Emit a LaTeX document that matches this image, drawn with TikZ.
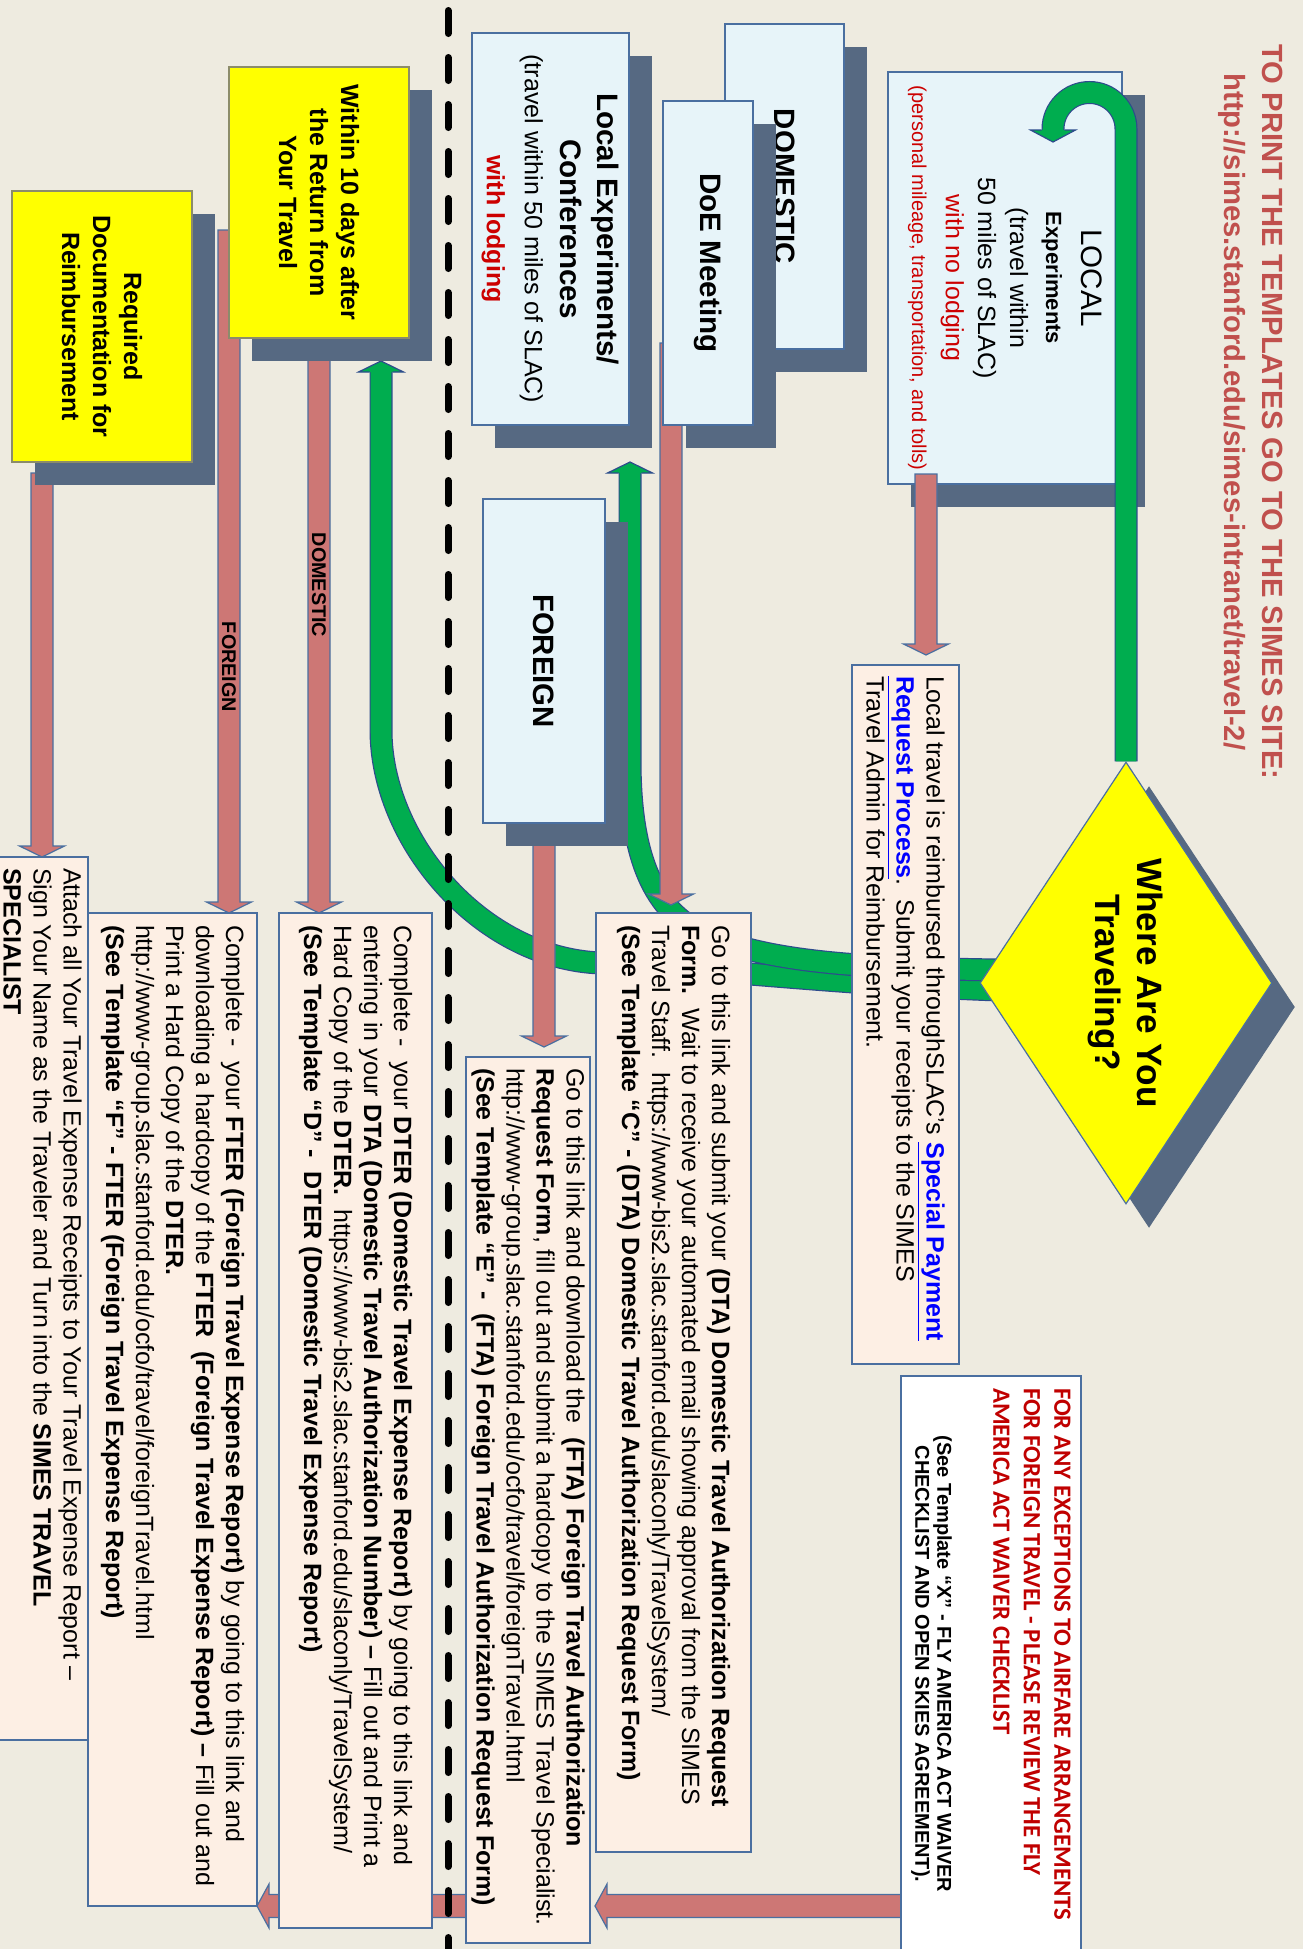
\documentclass[tikz,border=0pt]{standalone}
\usepackage{fontspec}
\setmainfont{Liberation Sans}
\newfontfamily\calibfont{Carlito}
\usepackage{graphicx}
\usetikzlibrary{shapes.geometric,shadows,calc}

\definecolor{bgc}{HTML}{EEEBE0}
\definecolor{titlered}{HTML}{C0504D}
\definecolor{boxblue}{HTML}{E7F4F9}
\definecolor{edgeblue}{HTML}{4A6FA0}
\definecolor{shadowc}{HTML}{566982}
\definecolor{peachc}{HTML}{FDEFE4}
\definecolor{yellowc}{HTML}{FFFF00}
\definecolor{yellowedge}{HTML}{8C8C6A}
\definecolor{pinkc}{HTML}{CD7775}
\definecolor{greenc}{HTML}{00AD4F}
\definecolor{greenedge}{HTML}{2D4C8C}
\definecolor{redtxt}{HTML}{CC0000}
\definecolor{linkblue}{HTML}{0000FF}
\definecolor{alertred}{HTML}{C00000}

\pgfdeclarelayer{bgl}
\pgfdeclarelayer{greenl}
\pgfdeclarelayer{pinkl}
\pgfdeclarelayer{upper}
\pgfdeclarelayer{top}
\pgfsetlayers{bgl,greenl,pinkl,main,upper,top}

% text set sideways, reading top to bottom
\newcommand\vrot[1]{\rotatebox{-90}{#1}}
\newcommand\bodytext[2]{\rotatebox{-90}{\parbox{#1}{\fontsize{12.5}{15}\selectfont\raggedright #2}}}
\newcommand\linktext[1]{\textcolor{linkblue}{\bfseries\underline{#1}}}

% thick pink block arrows (down / left)
\newcommand\pinkdown[2]{\draw[pinkarrow] let \p1=#1, \p2=#2 in
  (\x1-5.5pt,\y1) -- (\x1-5.5pt,\y2+5.5pt) -- (\x1-11.25pt,\y2+5.5pt) -- (\x1,\y2)
  -- (\x1+11.25pt,\y2+5.5pt) -- (\x1+5.5pt,\y2+5.5pt) -- (\x1+5.5pt,\y1) -- cycle;}
\newcommand\pinkleft[2]{\draw[pinkarrow] let \p1=#1, \p2=#2 in
  (\x1,\y1+5.75pt) -- (\x2+6pt,\y1+5.75pt) -- (\x2+6pt,\y1+11pt) -- (\x2,\y1)
  -- (\x2+6pt,\y1-11pt) -- (\x2+6pt,\y1-5.75pt) -- (\x1,\y1-5.75pt) -- cycle;}
% heads of the green band arrows
\newcommand\greenup[1]{%
  \fill[greenc] let \p1=#1 in (\x1-11.25pt,\y1) -- (\x1,\y1+5.5pt) -- (\x1+11.25pt,\y1) -- cycle;
  \draw[greenedge,line width=0.6pt] let \p1=#1 in (\x1-5.75pt,\y1) -- (\x1-11.25pt,\y1)
    -- (\x1,\y1+5.5pt) -- (\x1+11.25pt,\y1) -- (\x1+5.75pt,\y1);}
\newcommand\greendown[1]{%
  \fill[greenc] let \p1=#1 in (\x1-11.25pt,\y1) -- (\x1,\y1-6pt) -- (\x1+11.25pt,\y1) -- cycle;
  \draw[greenedge,line width=0.6pt] let \p1=#1 in (\x1-5.75pt,\y1) -- (\x1-11.25pt,\y1)
    -- (\x1,\y1-6pt) -- (\x1+11.25pt,\y1) -- (\x1+5.75pt,\y1);}

\tikzset{
  slate/.style={drop shadow={shadow xshift=11.5pt, shadow yshift=-11.5pt, fill=shadowc, opacity=1}},
  boxedge/.style={draw=edgeblue, line width=0.6pt, inner sep=0pt, outer sep=0pt},
  bluebox/.style={boxedge, fill=boxblue, slate},
  yellowbox/.style={draw=yellowedge, line width=0.6pt, inner sep=0pt, outer sep=0pt, fill=yellowc, slate},
  peachbox/.style={boxedge, fill=peachc},
  notebox/.style={boxedge, fill=white},
  decision/.style={diamond, aspect=0.66, draw=edgeblue, line width=0.6pt, fill=yellowc, inner sep=0pt,
    drop shadow={shadow xshift=11.5pt, shadow yshift=-12pt, fill=shadowc, opacity=1}},
  pinkarrow/.style={fill=pinkc, draw=edgeblue, line width=0.6pt, line join=miter},
  greenband/.style={draw=greenedge, line width=0.6pt, double=greenc, double distance=10.3pt},
  divider/.style={line width=3.5pt, line cap=round, dash pattern=on 11.5pt off 12pt},
  arrowlabel/.style={inner sep=0pt, font=\fontsize{9.9}{11}\selectfont\bfseries},
}

\begin{document}
\begin{tikzpicture}[x=0.5pt,y=-0.5pt]
\useasboundingbox (0,0) rectangle (1303,1949);
\begin{pgfonlayer}{bgl}
  \fill[bgc] (0,0) rectangle (1303,1949);
\end{pgfonlayer}

% ---------- heading ----------
\node[inner sep=0pt] (title) at (1250.5,412) {\vrot{\parbox{380pt}{\centering
  \fontsize{14.6}{19}\selectfont\bfseries\leavevmode\color{titlered}%
  TO PRINT THE TEMPLATES GO TO THE SIMES SITE:\\
  http://simes.stanford.edu/simes-intranet/travel-2/}}};

% ---------- category boxes ----------
\node[bluebox, minimum width=117pt, minimum height=206pt] (local) at (1005,278)
 {\vrot{\parbox{200pt}{\centering
  {\fontsize{14.8}{18}\selectfont LOCAL\par}
  {\fontsize{11}{17.75}\selectfont\bfseries Experiments\par}
  {\fontsize{12.5}{18}\selectfont (travel within\par}
  {\fontsize{12.5}{16}\selectfont 50 miles of SLAC)\par}
  {\fontsize{12.5}{16}\selectfont\textcolor{redtxt}{with no lodging}\par}
  {\fontsize{10}{17}\selectfont\textcolor{redtxt}{(personal mileage, transportation, and tolls)}\par}}}};

\node[bluebox, minimum width=59.5pt, minimum height=162.5pt] (domestic) at (784.5,186.5)
 {\vrot{\fontsize{14.7}{17}\selectfont\bfseries DOMESTIC}};
\node[bluebox, minimum width=45pt, minimum height=162pt] (doe) at (708,263)
 {\vrot{\fontsize{14.8}{17}\selectfont\bfseries DoE Meeting}};
\node[bluebox, minimum width=78.5pt, minimum height=196pt] (lexp) at (550.5,229)
 {\vrot{\parbox{190pt}{\centering
  {\fontsize{14.8}{18.5}\selectfont\bfseries Local Experiments/\\ Conferences\par}
  {\fontsize{12.5}{18}\selectfont (travel within 50 miles of SLAC)\par}
  {\fontsize{12.5}{19}\selectfont\bfseries\textcolor{redtxt}{with lodging}\par}}}};
\node[bluebox, minimum width=61pt, minimum height=162pt] (foreign) at (544,661)
 {\vrot{\fontsize{14.7}{17}\selectfont\bfseries FOREIGN}};

\node[yellowbox, minimum width=90pt, minimum height=135.5pt] (within) at (319,202.5)
 {\vrot{\parbox{130pt}{\centering\fontsize{12.5}{15.5}\selectfont\bfseries
  Within 10 days after\\ the Return from\\ Your Travel}}};
\node[yellowbox, minimum width=90pt, minimum height=135.5pt] (required) at (102,326.5)
 {\vrot{\parbox{130pt}{\centering\fontsize{12.5}{15.5}\selectfont\bfseries
  Required\\ Documentation for\\ Reimbursement}}};

% ---------- instruction boxes ----------
\node[peachbox, minimum width=53.5pt, minimum height=349.5pt] (ltravel) at (905.5,1014.5)
 {\bodytext{338.5pt}{%
  \mbox{Local travel is reimbursed throughSLAC’s \linktext{Special Payment}}\\
  \mbox{\linktext{Request Process}.\ \ Submit your receipts to the SIMES}\\
  \mbox{Travel Admin for Reimbursement.}}};

\node[peachbox, minimum width=77.5pt, minimum height=469.5pt] (dta) at (673.5,1382.5)
 {\bodytext{457.5pt}{%
  \mbox{Go to this link and submit your \textbf{(DTA) Domestic Travel Authorization Request}}\\
  \mbox{\textbf{Form.}\ \ Wait to receive your automated email showing approval from the SIMES}\\
  \mbox{Travel Staff.\ \ https://www-bis2.slac.stanford.edu/slaconly/TravelSystem/}\\
  \mbox{\textbf{(See Template “C” - (DTA) Domestic Travel Authorization Request Form)}}}};

\node[peachbox, minimum width=62pt, minimum height=443pt] (fta) at (528,1500)
 {\bodytext{432pt}{%
  \mbox{Go to this link and download the\ \ \textbf{(FTA) Foreign Travel Authorization}}\\
  \mbox{\textbf{Request Form}, fill out and submit a hardcopy to the SIMES Travel Specialist.}\\
  \mbox{http://www-group.slac.stanford.edu/ocfo/travel/foreignTravel.html}\\
  \mbox{\textbf{(See Template “E” -\ \ (FTA) Foreign Travel Authorization Request Form)}}}};

\node[peachbox, minimum width=76.5pt, minimum height=507.5pt] (dter) at (355.5,1420.5)
 {\bodytext{495.5pt}{%
  \mbox{Complete -\ \ your \textbf{DTER (Domestic Travel Expense Report)} by going to this link and}\\
  \mbox{entering in your \textbf{DTA (Domestic Travel Authorization Number) –} Fill out and Print a}\\
  \mbox{Hard Copy of the \textbf{DTER.}\ \ https://www-bis2.slac.stanford.edu/slaconly/TravelSystem/}\\
  \mbox{\textbf{(See Template “D” -\ \ DTER (Domestic Travel Expense Report)}}}};

\node[peachbox, minimum width=84.5pt, minimum height=496.5pt] (fter) at (172.5,1409.5)
 {\bodytext{484.5pt}{%
  \mbox{Complete -\ \ your \textbf{FTER (Foreign Travel Expense Report)} by going to this link and}\\
  \mbox{downloading a hardcopy of the \textbf{FTER\ \ (Foreign Travel Expense Report) –} Fill out and}\\
  \mbox{Print a Hard Copy of the \textbf{DTER.}}\\
  \mbox{http://www-group.slac.stanford.edu/ocfo/travel/foreignTravel.html}\\
  \mbox{\textbf{(See Template “F” - FTER (Foreign Travel Expense Report)}}}};

\node[peachbox, minimum width=45.5pt, minimum height=441.5pt] (attach) at (42.5,1298.5)
 {\bodytext{430.5pt}{%
  \mbox{Attach all Your Travel Expense Receipts to Your Travel Expense Report –}\\
  \mbox{Sign Your Name as the Traveler and Turn into the \textbf{SIMES TRAVEL}}\\
  \mbox{\textbf{SPECIALIST}}}};

\node[notebox, minimum width=90pt, minimum height=288pt] (forany) at (991,1664)
 {\vrot{\parbox{276pt}{%
  {\raggedright\calibfont\bfseries\fontsize{12.4}{15.25}\selectfont\leavevmode\color{alertred}%
   \mbox{FOR ANY EXCEPTIONS TO AIRFARE ARRANGEMENTS}\\
   \mbox{FOR FOREIGN TRAVEL - PLEASE REVIEW THE FLY}\\
   \mbox{AMERICA ACT WAIVER CHECKLIST}\par}
  \vspace{17pt}
  {\centering\bfseries\fontsize{10}{11}\selectfont
   (See Template “X” - FLY AMERICA ACT WAIVER\\
   CHECKLIST AND OPEN SKIES AGREEMENT).\par}}}};

% labels riding on the long pink arrows
\node[arrowlabel] (domlabel) at (319,585) {\vrot{DOMESTIC}};
\node[arrowlabel] (forlabel) at (229,667) {\vrot{FOREIGN}};

% ---------- decision ----------
\begin{pgfonlayer}{top}
\node[decision, minimum width=146pt, minimum height=221pt] (where) at (1126,983)
 {\vrot{\parbox{140pt}{\centering\fontsize{17.6}{21}\selectfont\bfseries Where Are You\\ Traveling?}}};
\end{pgfonlayer}

% ---------- connector end points ----------
\coordinate (g1a) at ($(local.north east)+(4,57)$);
\coordinate (g1head) at ($(local.north west)+(165,58)$);
\coordinate (g2head) at ($(lexp.south west)+(158,48)$);
\coordinate (g3head) at ($(within.south west)+(152,34)$);
\coordinate (divtop) at (448,10.5);
\coordinate (divbot) at (448,1960);

% green routes out of the decision
\begin{pgfonlayer}{greenl}
  \draw[greenband] ($(where.west)+(20,7)$) .. controls (850,985) and (700,968) .. (600,963)
     .. controls (480,958) and (381,840) .. (381,730) -- (g3head);
  \greenup{(g3head)}
  \draw[greenband] ($(where.west)+(20,-13)$) .. controls (850,968) and (760,961) .. (700,932)
     .. controls (650,907) and (630,850) .. (630,760) -- (g2head);
  \greenup{(g2head)}
\end{pgfonlayer}

\begin{pgfonlayer}{upper}
  \draw[greenband] (where.north) -- (g1a) .. controls (1126,108.8) and (1109.7,92.5) .. (1089.5,92.5)
     .. controls (1069.3,92.5) and (1053,108.8) .. (1053,129) -- (g1head);
  \greendown{(g1head)}
  \pinkdown{($(local.south west)+(38,-10)$)}{($(ltravel.north west)+(74,-10)$)}
\end{pgfonlayer}

% pink flow arrows, tucked under the boxes
\begin{pgfonlayer}{pinkl}
  \pinkdown{($(doe.south west)+(8,-82)$)}{($(dta.north west)+(75,-8)$)}
  \pinkdown{($(foreign.south west)+(61,-23)$)}{($(fta.north west)+(78,-10)$)}
  \pinkdown{($(within.south west)+(90,-8)$)}{($(dter.north west)+(40,0)$)}
  \pinkdown{($(within.west)+(0,27.5)$)}{($(fter.north west)+(141,0)$)}
  \pinkdown{($(required.south west)+(30,11)$)}{(attach.north)}
  \pinkleft{($(forany.west)+(10,242)$)}{($(fta.east)+(5,406)$)}
  \pinkleft{($(fta.west)+(14,406)$)}{($(fter.east)+(0,496.5)$)}
\end{pgfonlayer}

% dividing line
\begin{pgfonlayer}{top}
  \draw[divider] (divtop) -- (divbot);
\end{pgfonlayer}
\end{tikzpicture}
\end{document}
